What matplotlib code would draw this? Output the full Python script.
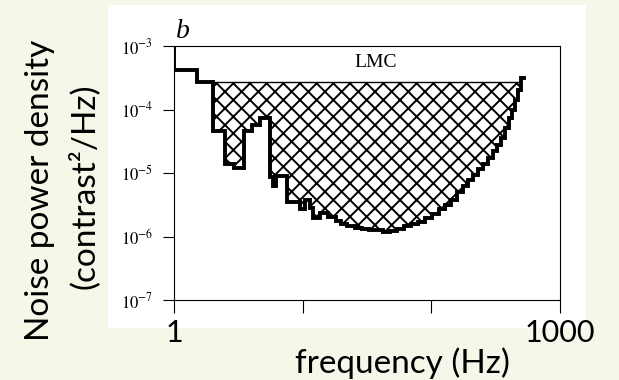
import numpy as np
import matplotlib
matplotlib.use("Agg")
import matplotlib.pyplot as plt
from matplotlib.patches import Rectangle
from matplotlib.ticker import NullLocator

# Dane (krawedzie przedzialow czestotliwosci i poziomy szumu)
freq_edges = [1.00, 1.51, 2.01, 2.50, 2.94, 3.51, 4.06, 4.68, 5.60, 5.91, 6.24,
              7.60, 9.60, 10.5, 11.5, 12.1, 13.7, 15.6, 18.0, 19.7, 22.3, 25.3,
              28.7, 32.5, 36.9, 41.8, 47.4, 53.8, 60.9, 69.1, 78.3, 88.9, 101,
              114, 127, 142, 158, 176, 192, 210, 230, 252, 275, 301, 323, 347,
              373, 401, 423, 447, 472, 498, 525]
noise_levels = [4.2e-4, 2.7e-4, 4.6e-5, 1.4e-5, 1.2e-5, 4.6e-5, 5.7e-5, 7.3e-5,
                8.6e-6, 6.2e-6, 9.0e-6, 3.5e-6, 2.7e-6, 3.8e-6, 2.8e-6, 1.95e-6,
                2.35e-6, 2.0e-6, 1.75e-6, 1.57e-6, 1.46e-6, 1.36e-6, 1.31e-6,
                1.27e-6, 1.27e-6, 1.18e-6, 1.22e-6, 1.31e-6, 1.46e-6, 1.57e-6,
                1.69e-6, 1.95e-6, 2.26e-6, 2.75e-6, 3.13e-6, 3.76e-6, 5.03e-6,
                6.24e-6, 7.76e-6, 9.31e-6, 1.16e-5, 1.39e-5, 1.72e-5, 2.22e-5,
                2.76e-5, 3.56e-5, 5.12e-5, 7.35e-5, 9.8e-5, 1.41e-4, 2.03e-4,
                3.13e-4]
start_level = 1e-3
hatch_top = 2.7e-4
hatch_start = 2.01
hatch_end = 498

x_ticks = [1, 10, 100, 1000]
x_tick_labels = ["1", "", "", "1000"]
y_ticks = [1e-7, 1e-6, 1e-5, 1e-4, 1e-3]
y_tick_labels = ["$10^{-7}$", "$10^{-6}$", "$10^{-5}$", "$10^{-4}$", "$10^{-3}$"]

plt.rcParams["mathtext.fontset"] = "stix"
plt.rcParams["hatch.linewidth"] = 1.4

fig = plt.figure(figsize=(6.19, 3.80), dpi=100)
fig.patch.set_facecolor("#f6f6e9")
fig.patches.append(Rectangle((0.1745, 0.1368), 0.7722, 0.85, transform=fig.transFigure,
                             facecolor="white", edgecolor="none", zorder=-1))

ax = fig.add_axes([0.2811, 0.2105, 0.6236, 0.6684])
ax.set_xscale("log")
ax.set_yscale("log")
ax.set_xlim(1, 1000)
ax.set_ylim(1e-7, 1e-3)

edges = np.array(freq_edges)
levels = np.array(noise_levels)

# Obszar zakreskowany miedzy krzywa a poziomem LMC
clipped = np.minimum(levels, hatch_top)
ax.fill_between(edges, np.r_[clipped, clipped[-1]], hatch_top, step="post",
                facecolor="none", edgecolor="black", hatch="xx", linewidth=0)
ax.hlines(hatch_top, hatch_start, hatch_end, color="black", linewidth=1.0)

# Krzywa schodkowa
xs = np.r_[edges[0], edges]
ys = np.r_[start_level, levels, levels[-1]]
ax.plot(xs, ys, drawstyle="steps-post", color="black", linewidth=2.8,
        solid_joinstyle="miter")

ax.set_xticks(x_ticks)
ax.set_xticklabels(x_tick_labels, fontsize=22, family="Lato")
ax.set_yticks(y_ticks)
ax.set_yticklabels(y_tick_labels, fontsize=12)
ax.xaxis.set_minor_locator(NullLocator())
ax.yaxis.set_minor_locator(NullLocator())
ax.tick_params(axis="x", direction="out", length=9, width=0.8, pad=5)
ax.tick_params(axis="y", direction="out", length=8, width=0.8, pad=7)
for s in ax.spines.values():
    s.set_linewidth(0.8)

ax.text(37, 5.6e-4, "LMC", ha="center", va="center", fontsize=14,
        family="Liberation Serif")
fig.text(183 / 619, 1 - 32 / 380, "b", ha="center", va="center", fontsize=20,
         family="Liberation Serif", style="italic")

fig.text(402 / 619, 1 - 363 / 380, "frequency (Hz)", ha="center", va="center",
         fontsize=24, family="Lato")
fig.text(40 / 619, 0.5, "Noise power density", rotation=90, ha="center",
         va="center", fontsize=24, family="Lato")
fig.text(84 / 619, 0.509, "(contrast²/Hz)", rotation=90, ha="center",
         va="center", fontsize=24, family="Lato")

fig.savefig("out.png", dpi=100, facecolor=fig.get_facecolor())
